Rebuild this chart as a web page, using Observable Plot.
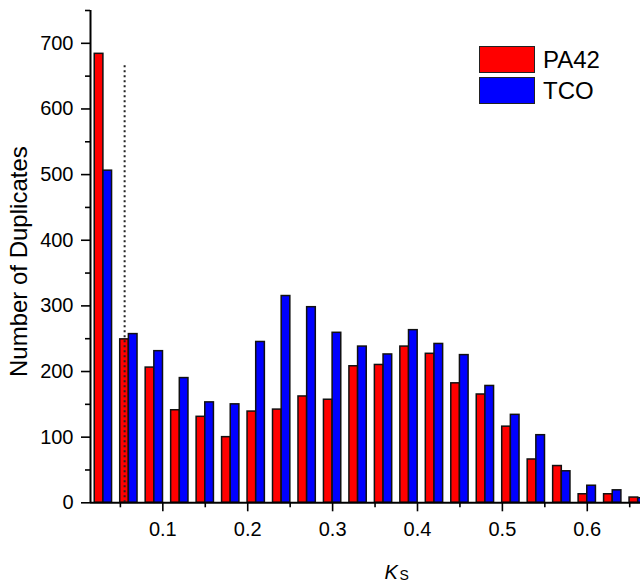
<!DOCTYPE html>
<html><head><meta charset="utf-8">
<script src="https://cdn.jsdelivr.net/npm/d3@7"></script>
<script src="https://cdn.jsdelivr.net/npm/@observablehq/plot@0.6"></script>
<style>
body{margin:0;background:#fff;overflow:hidden;font-family:"Liberation Sans",Arial,sans-serif;}
#wrap{position:relative;width:640px;height:583px;}
.leg{position:absolute;left:479px;display:flex;align-items:center;}
.sw{width:56px;height:27px;border:1.5px solid #222;box-sizing:border-box;}
.lt{margin-left:8px;font-size:24px;color:#000;line-height:27px;}
</style></head>
<body><div id="wrap"></div>
<script>
// Ks bin centres
const ksBins = [0.03,0.06,0.09,0.12,0.15,0.18,0.21,0.24,0.27,0.30,0.33,0.36,0.39,0.42,0.45,0.48,0.51,0.54,0.57,0.60,0.63,0.66];
// series values (number of duplicates)
const pa42 = [684,249,206,141,131,100,139,142,162,157,208,210,238,227,182,165,116,66,56,13,13,8];
const tco  = [506,257,231,190,153,150,245,315,298,259,238,226,263,242,225,178,134,103,48,26,19,7];
const seriesNames = ["PA42","TCO"];
const seriesColors = ["#ff0000","#0000ff"];
// axis ticks
const xMajorTicks = [0.1,0.2,0.3,0.4,0.5,0.6];
const xMinorTicks = [0.05,0.15,0.25,0.35,0.45,0.55,0.65];
const yMajorTicks = [0,100,200,300,400,500,600,700];
const yMinorTicks = [50,150,250,350,450,550,650,750];
const cutoff = [0.055];

const rows = ksBins.map((k,i)=>({k, pa42:pa42[i], tco:tco[i]}));
const bw = 0.0102;
const xDom = [0.0148, 0.6627];
const font = '"Liberation Sans", Arial, sans-serif';

const chart = Plot.plot({
  width:640, height:583,
  marginLeft:90, marginRight:0, marginTop:10, marginBottom:80.7,
  x:{domain:xDom},
  y:{domain:[0,750]},
  style:{fontFamily:font, fontSize:"20px", color:"#000", background:"#fff"},
  marks:[
    Plot.rect(rows,{x1:d=>d.k-bw, x2:d=>d.k, y1:0, y2:"pa42", fill:seriesColors[0], stroke:"#111", strokeWidth:1.5, inset:0}),
    Plot.rect(rows,{x1:d=>d.k, x2:d=>d.k+bw, y1:0, y2:"tco", fill:seriesColors[1], stroke:"#111", strokeWidth:1.5, inset:0}),
    Plot.ruleX(cutoff,{y1:0, y2:670, stroke:"#222", strokeWidth:2, strokeDasharray:"2,3"}),
    Plot.axisX({ticks:xMajorTicks, tickSize:9, tickPadding:10, tickFormat:d3.format(".1f"), label:null, strokeWidth:1.6}),
    Plot.axisX({ticks:xMinorTicks, tickSize:5, tickFormat:()=>"", label:null, strokeWidth:1.6}),
    Plot.axisY({ticks:yMajorTicks, tickSize:9, tickPadding:8, tickFormat:d3.format("d"), label:null, strokeWidth:1.6}),
    Plot.axisY({ticks:yMinorTicks, tickSize:5, tickFormat:()=>"", label:null, strokeWidth:1.6}),
    Plot.ruleY([0],{strokeWidth:2}),
    Plot.ruleX([xDom[0]],{y1:0, y2:750, strokeWidth:2}),
    Plot.text(["Number of Duplicates"],{frameAnchor:"left", rotate:-90, textAnchor:"middle", lineAnchor:"bottom", dx:-64, dy:5, fontSize:24}),
    Plot.text(["K"],{frameAnchor:"bottom", textAnchor:"start", lineAnchor:"bottom", dx:19, dy:76.5, fontSize:20, fontStyle:"italic"}),
    Plot.text(["S"],{frameAnchor:"bottom", textAnchor:"start", lineAnchor:"bottom", dx:34, dy:77.5, fontSize:14})
  ]
});
const wrap = document.getElementById("wrap");
wrap.appendChild(chart);
const legTops = [46, 77.3];
seriesNames.forEach((n,i)=>{
  const d = document.createElement("div");
  d.className = "leg";
  d.style.top = legTops[i]+"px";
  d.innerHTML = `<div class="sw" style="background:${seriesColors[i]}"></div><div class="lt">${n}</div>`;
  wrap.appendChild(d);
});
</script>
</body></html>
